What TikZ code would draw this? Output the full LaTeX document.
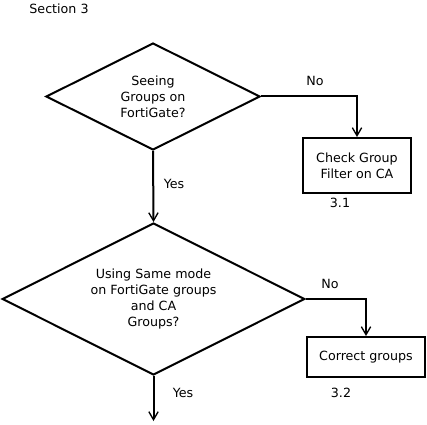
\documentclass[tikz,border=0pt]{standalone}
\usepackage{fontspec}
\setmainfont{DejaVu Sans}
\usetikzlibrary{shapes.geometric,arrows.meta}

\tikzset{
    decision/.style={diamond, draw, aspect=2, inner sep=0pt, align=center},
    process/.style={rectangle, draw, inner sep=0pt, align=center},
    flow/.style={-{Straight Barb[length=6pt,width=7pt,line width=1pt]}}
}

\begin{document}
\begin{tikzpicture}[x=0.75pt, y=-0.75pt, line width=1.5pt, font=\fontsize{9.5}{12}\selectfont]

            \path[use as bounding box, fill=white] (0,0) rectangle (427,424);

            \node (title) at (59,9) {Section 3};

            \node (seeing) [decision, minimum width=160.5pt, minimum height=80.25pt] at (153,96.5) {Seeing\\Groups on\\FortiGate?};
            \node (filter) [process, minimum width=81pt, minimum height=41.25pt] at (357,165.5) {Check Group\\Filter on CA};

            \node (samemode) [decision, minimum width=227pt, minimum height=114pt] at (153.5,299) {Using Same mode\\on FortiGate groups\\and CA\\Groups?};
            \node (correct) [process, minimum width=88.5pt, minimum height=30pt] at (366,357) {Correct groups};

            \coordinate (next) at (153.5,421);

            \draw[flow] (seeing.east) -| (filter.north);
            \draw[flow] (seeing.south) -- (samemode.north);
            \draw[flow] (samemode.east) -| (correct.north);
            \draw[flow] (samemode.south) -- (next);

            \node at (315,81) {No};
            \node at (174,184) {Yes};
            \node at (340,203) {3.1};
            \node at (330,284) {No};
            \node at (183,393) {Yes};
            \node at (341,393) {3.2};

        \end{tikzpicture}
\end{document}
